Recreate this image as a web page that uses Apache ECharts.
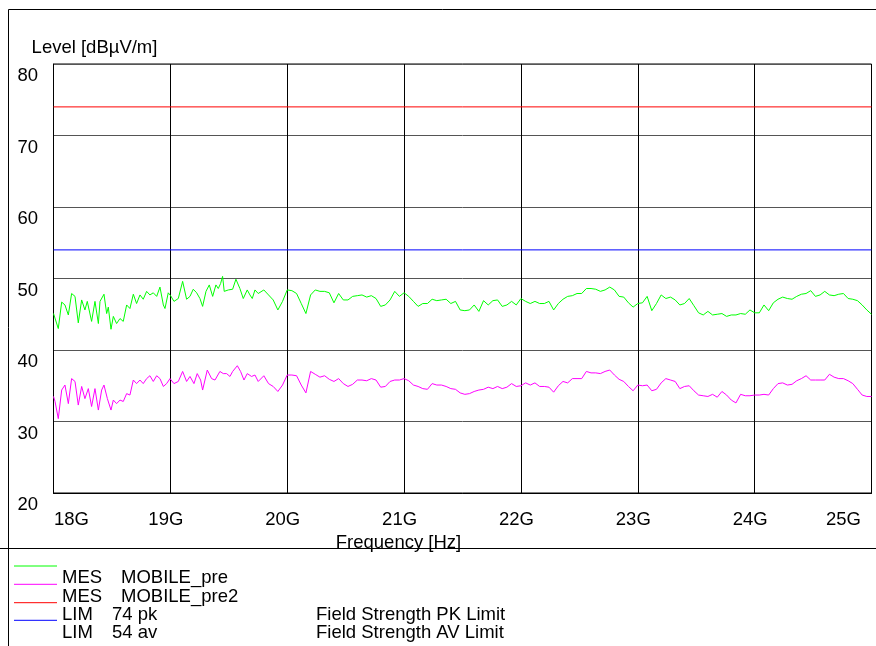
<!DOCTYPE html>
<html>
<head>
<meta charset="utf-8">
<script src="https://cdn.jsdelivr.net/npm/echarts@6/dist/echarts.min.js"></script>
<style>html,body{margin:0;padding:0;background:#fff}#c{width:876px;height:646px}</style>
</head>
<body>
<div id="c"></div>
<script>
// ---- data ----
// MOBILE_pre (green), 18.0-19.75 GHz read point by point
const preHeadFreq = [18.000,18.041,18.070,18.098,18.127,18.155,18.184,18.212,18.241,18.269,18.289,18.326,18.355,18.384,18.398,18.432,18.455,18.469,18.492,18.512,18.540,18.569,18.597,18.626,18.654,18.683,18.711,18.740,18.768,18.797,18.825,18.854,18.883,18.911,18.940,18.954,18.982,19.002,19.031,19.068,19.105,19.139,19.168,19.196,19.225,19.253,19.276,19.305,19.333,19.362,19.390,19.410,19.430,19.447,19.461,19.496,19.533,19.561,19.595,19.624,19.658,19.681,19.701,19.724,19.752];
const preHeadLevel = [45.1,43.0,46.7,46.3,44.9,47.9,47.5,43.8,47.0,45.6,46.8,44.0,46.8,43.7,46.8,47.8,45.1,46.0,42.9,44.7,43.7,44.4,44.0,46.3,45.8,47.8,46.5,47.7,47.1,48.2,47.7,48.0,47.5,48.8,46.3,45.8,48.0,47.6,46.8,47.2,49.6,47.1,47.5,48.5,48.0,47.2,46.1,48.2,49.1,47.5,49.1,48.6,49.3,50.3,48.2,48.4,48.5,49.9,48.6,47.2,48.4,47.7,47.2,48.4,47.9];
// MOBILE_pre2 (magenta), 18.0-19.75 GHz read point by point
const pre2HeadFreq = [18.000,18.013,18.041,18.070,18.098,18.127,18.155,18.184,18.212,18.241,18.269,18.298,18.326,18.355,18.384,18.412,18.432,18.461,18.492,18.512,18.540,18.569,18.597,18.626,18.654,18.683,18.711,18.740,18.768,18.797,18.825,18.854,18.883,18.911,18.940,18.968,18.997,19.031,19.068,19.105,19.139,19.168,19.202,19.230,19.259,19.276,19.316,19.353,19.382,19.424,19.453,19.481,19.510,19.533,19.573,19.601,19.630,19.658,19.695,19.724,19.752];
const pre2HeadLevel = [33.5,32.8,30.4,34.4,35.1,32.5,36.0,35.6,32.3,34.9,33.2,34.6,32.1,34.6,31.6,34.4,35.1,33.2,31.6,33.0,32.5,33.0,32.8,33.9,33.7,35.8,35.3,35.8,35.3,36.0,36.4,35.6,36.4,36.0,34.9,35.3,36.0,35.3,35.6,37.0,35.6,36.3,35.3,36.7,35.8,34.4,37.2,36.0,35.8,37.0,36.7,36.7,36.3,37.0,37.8,37.0,35.8,36.7,36.3,36.5,35.6];
// 19.80-25.00 GHz, sampled every 0.04 GHz
const tailStartGHz = 19.80;
const tailStepGHz = 0.04;
const preTail = [
48.4,47.7,47.0,45.6,46.8,48.4,48.3,47.9,46.5,45.1,47.7,48.4,48.2,48.2,48.0,46.6,47.9,47.0,47.0,47.5,47.6,47.7,47.4,47.6,47.2,46.1,46.3,47.0,48.2,47.5,48.0,47.5,46.8,46.1,46.5,46.5,47.1,46.9,47.0,47.1,46.5,46.8,45.6,45.5,
45.6,46.3,45.4,46.9,46.3,46.9,47.0,46.1,46.3,46.8,46.3,47.2,46.8,46.5,46.8,46.5,46.5,46.8,45.6,46.5,47.1,47.5,47.6,47.9,47.9,48.6,48.6,48.5,48.2,48.4,48.8,48.4,47.5,47.4,46.6,46.0,46.5,46.6,47.5,45.5,46.5,47.7,47.2,47.4,
47.0,46.3,46.5,47.2,46.2,45.2,44.9,45.4,44.9,45.0,45.1,44.7,44.9,44.9,45.1,45.0,45.6,45.2,45.2,46.3,45.5,46.6,47.1,47.4,47.2,47.1,47.5,47.8,47.9,48.3,47.5,47.7,48.2,47.7,47.6,47.8,47.9,47.2,47.1,46.9,46.3,45.6,45.0
];
const pre2Tail = [
36.4,35.3,34.9,34.2,35.1,36.5,36.5,36.4,35.1,34.0,37.0,36.6,36.2,36.4,35.9,35.6,36.0,35.3,34.9,35.2,35.8,35.8,35.7,36.0,35.8,34.8,34.9,35.6,35.8,35.8,36.0,35.7,35.1,34.9,34.6,34.5,35.3,35.1,35.1,34.9,34.6,34.5,34.0,33.8,
33.9,34.2,34.4,34.5,34.8,34.6,34.9,34.6,34.8,35.3,34.9,35.0,35.4,35.1,35.4,34.9,34.9,34.8,34.1,35.0,35.6,35.4,36.0,36.0,36.0,37.0,36.8,36.8,36.7,37.0,37.2,36.5,35.9,35.6,34.9,34.3,35.1,35.0,35.1,34.3,34.5,35.4,36.0,35.8,
35.6,34.6,34.9,35.0,34.3,33.7,33.6,33.5,33.8,33.4,34.2,33.7,33.0,32.6,33.8,33.6,33.6,33.7,33.7,33.8,33.7,34.6,35.3,35.4,35.1,35.2,35.7,36.0,36.4,35.8,35.8,35.8,35.8,36.6,36.2,36.0,36.0,35.7,35.3,34.5,33.7,33.5,33.5
];
const limitPk = 74;
const limitAv = 54;
const freqRange = [18, 25];
const levelRange = [20, 80];
const legendTypes = ['MES', 'MES', 'LIM', 'LIM'];
const legendNames = ['MOBILE_pre', 'MOBILE_pre2', '74 pk', '54 av'];
const legendDescr = ['', '', 'Field Strength PK Limit', 'Field Strength AV Limit'];
const legendColors = ['#00ff00', '#ff00ff', '#ff0000', '#0000ff'];
const yAxisTitle = 'Level [dBµV/m]';
const xAxisTitle = 'Frequency [Hz]';

// ---- build ----
function buildSeries(headF, headV, tail) {
  const pts = headF.map((f, i) => [f, headV[i]]);
  tail.forEach((v, i) => pts.push([+(tailStartGHz + i * tailStepGHz).toFixed(3), v]));
  return pts;
}
const FONT = "'Liberation Sans', Arial, sans-serif";
const FS = 18.5;

const chart = echarts.init(document.getElementById('c'), null, {renderer: 'canvas'});

const graphic = [
  {type: 'line', shape: {x1: 8.5, y1: 9.5, x2: 876, y2: 9.5}, style: {stroke: '#000', lineWidth: 1}, silent: true},
  {type: 'line', shape: {x1: 8.5, y1: 9.5, x2: 8.5, y2: 646}, style: {stroke: '#000', lineWidth: 1}, silent: true},
  {type: 'line', shape: {x1: 0, y1: 548.5, x2: 876, y2: 548.5}, style: {stroke: '#000', lineWidth: 1}, silent: true}
];
const lineY = [566, 584.3, 602.7, 620.3];
const textY = [578, 596.7, 615, 633];
for (let k = 0; k < 4; k++) {
  graphic.push({type: 'line', shape: {x1: 14, y1: lineY[k], x2: 57, y2: lineY[k]}, style: {stroke: legendColors[k], lineWidth: 1}, silent: true});
  graphic.push({type: 'text', x: 62, y: textY[k], style: {text: legendTypes[k], font: FS + 'px ' + FONT, fill: '#000', verticalAlign: 'middle'}});
  graphic.push({type: 'text', x: k < 2 ? 121 : 112, y: textY[k], style: {text: legendNames[k], font: FS + 'px ' + FONT, fill: '#000', verticalAlign: 'middle'}});
  if (legendDescr[k]) graphic.push({type: 'text', x: 316, y: textY[k], style: {text: legendDescr[k], font: FS + 'px ' + FONT, fill: '#000', verticalAlign: 'middle'}});
}

const txt = {fontSize: FS, fontFamily: FONT, color: '#000'};

chart.setOption({
  animation: false,
  backgroundColor: '#fff',
  grid: {left: 53.5, top: 64, right: 4.5, bottom: 153, show: true, borderColor: '#000', borderWidth: 1},
  xAxis: {
    type: 'value', min: freqRange[0], max: freqRange[1], interval: 1,
    name: xAxisTitle, nameLocation: 'middle', nameGap: 48,
    nameTextStyle: Object.assign({}, txt, {verticalAlign: 'middle', padding: [0, 128, 0, 0]}),
    axisLine: {show: true, lineStyle: {color: '#000'}},
    axisTick: {show: false},
    splitLine: {show: true, lineStyle: {color: '#000', width: 1}},
    axisLabel: {
      margin: 17,
      formatter: function (v) {
        if (v === freqRange[0]) return '{l|' + v + 'G}';
        if (v === freqRange[1]) return '{r|' + v + 'G}';
        return '{m|' + v + 'G}';
      },
      rich: {
        l: Object.assign({}, txt, {padding: [0, 0, 0, 36]}),
        m: Object.assign({}, txt, {padding: [0, 9, 0, 0]}),
        r: Object.assign({}, txt, {padding: [0, 56, 0, 0]})
      }
    }
  },
  yAxis: {
    type: 'value', min: levelRange[0], max: levelRange[1], interval: 10,
    name: yAxisTitle, nameLocation: 'end', nameGap: 16.5,
    nameTextStyle: Object.assign({}, txt, {align: 'center', verticalAlign: 'middle', padding: [0, 0, 0, 82]}),
    axisLine: {show: true, lineStyle: {color: '#000'}},
    axisTick: {show: false},
    splitLine: {show: true, lineStyle: {color: '#555', width: 1}},
    axisLabel: {
      margin: 15.5,
      formatter: function (v) { return '{a|' + v + '}'; },
      rich: {a: Object.assign({}, txt, {padding: [24, 0, 0, 0]})}
    }
  },
  graphic: graphic,
  series: [
    {type: 'line', name: 'MOBILE_pre', data: buildSeries(preHeadFreq, preHeadLevel, preTail), showSymbol: false, lineStyle: {color: legendColors[0], width: 1}, z: 3},
    {type: 'line', name: 'MOBILE_pre2', data: buildSeries(pre2HeadFreq, pre2HeadLevel, pre2Tail), showSymbol: false, lineStyle: {color: legendColors[1], width: 1}, z: 3},
    {type: 'line', name: '74 pk', data: [[freqRange[0], limitPk], [freqRange[1], limitPk]], showSymbol: false, lineStyle: {color: legendColors[2], width: 1}, z: 2},
    {type: 'line', name: '54 av', data: [[freqRange[0], limitAv], [freqRange[1], limitAv]], showSymbol: false, lineStyle: {color: legendColors[3], width: 1}, z: 2}
  ]
});
</script>
</body>
</html>
